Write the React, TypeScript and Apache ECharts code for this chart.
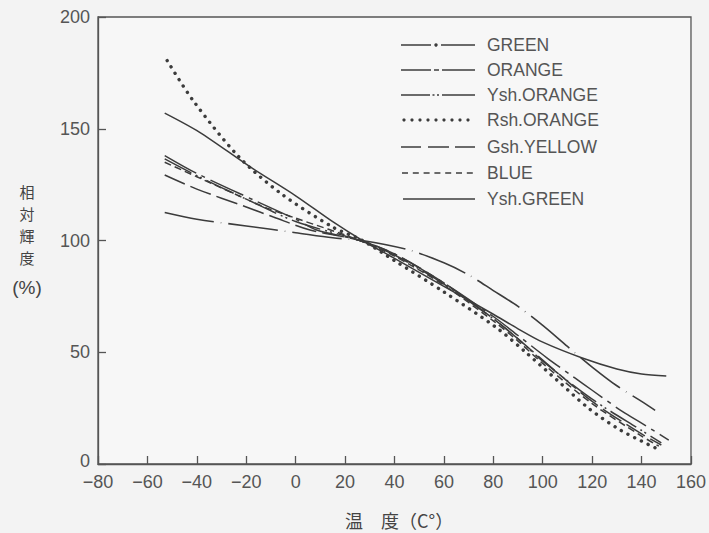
import React, { useEffect, useRef } from "react";
import * as echarts from "echarts";

// x: temperature (°C), y: relative luminance (%)
const greenPts = [[-53,112.5],[-40,109.5],[-20,106.5],[0,103.5],[15,101.2],[27,100],[46,95.7],[60,90],[70,84.6],[80,77.6],[90,70.5],[100,62],[110,52.6],[120,43.4],[130,35],[140,28],[145.5,24]];
const orangePts = [[-53,138],[-40,130],[-15.6,117.4],[0,109.5],[8.5,104.7],[26,100],[40,94],[60,81],[80,66],[90,57.5],[101.8,47.4],[113,38.5],[120,33],[132.5,23.3],[140,18.3],[151,10.7]];
const yshOrangePts = [[-53,136.5],[-40,129],[-20,118.5],[0,108.5],[26,100],[40,93.5],[60,80.5],[80,65],[90,56],[100,46],[120,29],[140,15],[148,9.5]];
const rshOrangePts = [[-52,180.5],[-41.5,162.6],[-23.3,137.8],[-6.3,121.3],[15,106],[27,100],[40,91],[60,77],[81.5,60.8],[92.9,50.2],[105.7,37.6],[118.5,25],[131.4,15.2],[146,7]];
const gshYellowPts = [[-53,129.3],[-40,123],[-20,115],[-9,110.5],[5.8,104.7],[26,100],[40,94],[60,81],[80,65],[90,56],[100,46.5],[120,28],[140,13.5],[148,8.5]];
const bluePts = [[-53,135],[-40,128.5],[-20,118.5],[-11.6,114.5],[0,110],[26,100],[40,93],[60,80],[80,64],[90,55],[100,45],[120,27],[140,12.5],[147,8]];
const yshGreenPts = [[-53,157],[-39,148.5],[-18.5,133],[0,120],[15,108.4],[27,100],[40,92],[60,79.5],[80,67],[90,60.5],[100,54.5],[116,47.4],[130,42.5],[140,40.3],[150,39.4]];

const legendNames = ["GREEN", "ORANGE", "Ysh.ORANGE", "Rsh.ORANGE", "Gsh.YELLOW", "BLUE", "Ysh.GREEN"];
const yNameChars = ["相", "対", "輝", "度"];

const LINE = "#3c3c3c";
const TEXT = "#555555";
const FONT = "'Liberation Sans', Arial, sans-serif";

export default function App() {
  const ref = useRef<HTMLDivElement>(null);
  useEffect(() => {
    document.body.style.margin = "0";
    const chart = echarts.init(ref.current!, null, { renderer: "svg" });

    const seriesDefs: { name: string; data: number[][]; type: any; width: number; cap?: string }[] = [
      { name: "GREEN", data: greenPts, type: [50, 7, 0.5, 7], width: 1.6 },
      { name: "ORANGE", data: orangePts, type: [36, 6, 4, 6], width: 1.5 },
      { name: "Ysh.ORANGE", data: yshOrangePts, type: [30, 5, 2, 3, 2, 5], width: 1.5 },
      { name: "Gsh.YELLOW", data: gshYellowPts, type: [22, 6], width: 1.5 },
      { name: "BLUE", data: bluePts, type: [7, 4], width: 1.5 },
      { name: "Ysh.GREEN", data: yshGreenPts, type: "solid", width: 1.5 },
      { name: "Rsh.ORANGE", data: rshOrangePts, type: [0.1, 7.4], width: 3.4, cap: "round" },
    ];

    const rowsY = [45, 70, 95, 120, 147, 173, 199];
    const g: any[] = [];
    const seg = (x1: number, x2: number, y: number, w = 1.5) => ({
      type: "line", shape: { x1, y1: y, x2, y2: y }, style: { stroke: LINE, lineWidth: w }, silent: true,
    });
    const dot = (x: number, y: number, r: number) => ({
      type: "circle", shape: { cx: x, cy: y, r }, style: { fill: LINE }, silent: true,
    });
    g.push(seg(401, 431, rowsY[0]), dot(436, rowsY[0], 1.7), seg(441, 475, rowsY[0]));
    g.push(seg(401, 431, rowsY[1]), seg(434, 439, rowsY[1]), seg(442, 475, rowsY[1]));
    g.push(seg(401, 430, rowsY[2]), seg(432.5, 434.5, rowsY[2]), seg(437, 439, rowsY[2]), seg(442, 475, rowsY[2]));
    for (let i = 0; i < 9; i++) g.push(dot(404 + i * 8, rowsY[3], 1.6));
    g.push(seg(401, 421, rowsY[4]), seg(428, 449, rowsY[4]), seg(455, 475, rowsY[4]));
    for (let i = 0; i < 7; i++) g.push(seg(402 + i * 10.8, 408 + i * 10.8, rowsY[5]));
    g.push(seg(403, 475, rowsY[6]));
    legendNames.forEach((n, i) => {
      g.push({
        type: "text", x: 487, y: rowsY[i], silent: true,
        style: { text: n, fill: TEXT, font: "17.5px " + FONT, verticalAlign: "middle", align: "left" },
      });
    });
    const yNameY = [191, 213, 235, 257];
    yNameChars.forEach((c, i) => {
      g.push({
        type: "text", x: 27, y: yNameY[i], silent: true,
        style: { text: c, fill: "#444", font: "15px 'Noto Sans CJK JP', sans-serif", lineHeight: 16, align: "center", verticalAlign: "middle" },
      });
    });
    g.push({
      type: "text", x: 27, y: 287, silent: true,
      style: { text: "(%)", fill: "#444", font: "19px " + FONT, align: "center", verticalAlign: "middle" },
    });
    g.push({
      type: "text", x: 345, y: 520, silent: true,
      style: { text: "温　度（C°）", fill: "#444", font: "18px 'Noto Sans CJK JP', sans-serif", lineHeight: 20, align: "left", verticalAlign: "middle" },
    });

    chart.setOption({
      animation: false,
      backgroundColor: "#f3f3f3",
      grid: {
        left: 98, right: 18, top: 17, bottom: 69, containLabel: false,
        show: true, borderColor: "#555", borderWidth: 1.3, backgroundColor: "#f7f7f7",
      },
      xAxis: {
        type: "value", min: -80, max: 160, interval: 20,
        axisLine: { show: true, onZero: false, lineStyle: { color: "#555", width: 1.3 } },
        axisTick: { show: true, inside: true, length: 8, lineStyle: { color: "#555", width: 1.3 } },
        splitLine: { show: false },
        axisLabel: {
          color: TEXT, fontSize: 18, fontFamily: FONT, margin: 9,
          formatter: (v: number) => (v < 0 ? "\u2212" + Math.abs(v) : String(v)),
        },
      },
      yAxis: {
        type: "value", min: 0, max: 200, interval: 50,
        axisLine: { show: true, onZero: false, lineStyle: { color: "#555", width: 1.3 } },
        axisTick: { show: true, inside: true, length: 8, lineStyle: { color: "#555", width: 1.3 } },
        splitLine: { show: false },
        axisLabel: {
          color: TEXT, fontSize: 18, fontFamily: FONT, margin: 8,
          formatter: (v: number) => (v === 0 ? "{z|0}" : String(v)),
          rich: { z: { color: TEXT, fontSize: 18, fontFamily: FONT, padding: [0, 0, 7, 0] } },
        },
      },
      series: seriesDefs.map((s) => ({
        name: s.name, type: "line", data: s.data, smooth: 0.3, symbol: "none",
        lineStyle: { color: LINE, width: s.width, type: s.type, cap: s.cap || "butt" },
        silent: true,
      })),
      graphic: g,
    });
    return () => chart.dispose();
  }, []);
  return <div ref={ref} style={{ width: 709, height: 533 }} />;
}
